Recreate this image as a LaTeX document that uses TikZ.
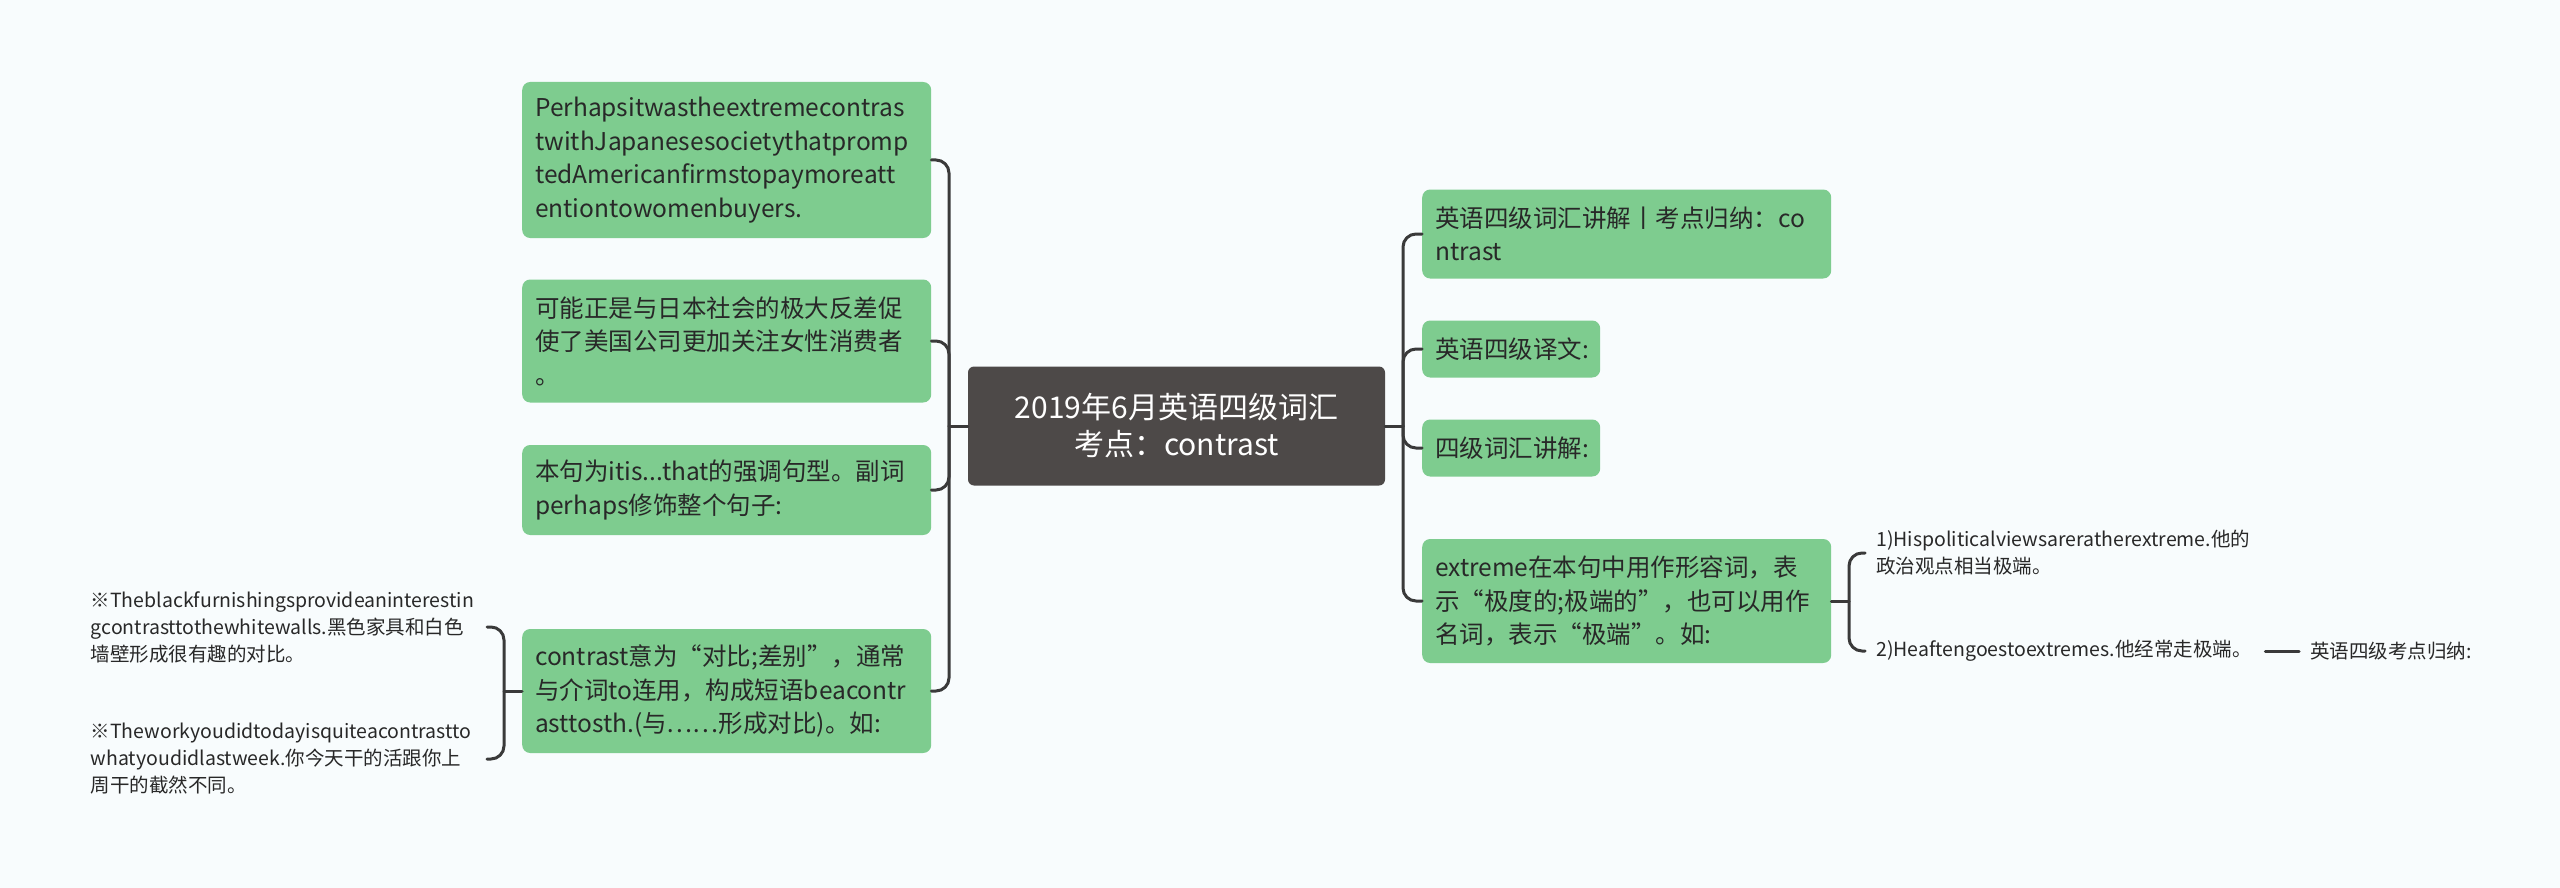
\documentclass[tikz,border=0pt]{standalone}
\usepackage{fontspec}
\setmainfont{Noto Sans CJK SC}
\hyphenpenalty=10000
\exhyphenpenalty=10000
\definecolor{bgpaper}{RGB}{248,252,253}
\definecolor{subgreen}{RGB}{126,204,143}
\definecolor{rootgray}{RGB}{77,73,72}
\definecolor{linegray}{RGB}{58,58,58}
\definecolor{inkgray}{RGB}{40,40,40}
\begin{document}
\begin{tikzpicture}[x=1pt,y=-1pt,line join=round,line cap=round,
	topic/.style={fill=rootgray,text=white,rounded corners=6pt,align=center,minimum width=417pt,minimum height=119pt,inner sep=0pt,font=\fontsize{30}{37}\selectfont},
	sub/.style={fill=subgreen,text=inkgray,rounded corners=8pt,anchor=west,align=left,inner xsep=13pt,inner ysep=0pt,text width=383pt,font=\fontsize{24.5}{33.5}\selectfont},
	subshort/.style={sub,text width=152pt},
	leaf/.style={text=inkgray,align=left,inner xsep=11pt,inner ysep=0pt,font=\fontsize{19.5}{27}\selectfont},
	link/.style={draw=linegray,line width=3pt,rounded corners=13pt}]
	\useasboundingbox[fill=bgpaper] (0,0) rectangle (2560,888);
	\node[topic] (root) at (1176.5,426) {2019年6月英语四级词汇\\考点：contrast};
	\node[sub,minimum height=156pt] (L1) at (522,160) {Perhapsitwastheextremecontras\\twithJapanesesocietythatpromp\\tedAmericanfirmstopaymoreatt\\entiontowomenbuyers.};
	\node[sub,minimum height=123pt] (L2) at (522,341) {可能正是与日本社会的极大反差促\\使了美国公司更加关注女性消费者\\。};
	\node[sub,minimum height=90pt] (L3) at (522,490) {本句为itis...that的强调句型。副词\\perhaps修饰整个句子:};
	\node[sub,minimum height=124pt] (L4) at (522,691) {contrast意为“对比;差别”，通常\\与介词to连用，构成短语beacontr\\asttosth.(与……形成对比)。如:};
	\node[sub,minimum height=89pt] (R1) at (1422,234) {英语四级词汇讲解丨考点归纳：co\\ntrast};
	\node[subshort,minimum height=57pt] (R2) at (1422,349) {英语四级译文:};
	\node[subshort,minimum height=57pt] (R3) at (1422,448) {四级词汇讲解:};
	\node[sub,minimum height=124pt] (R4) at (1422,601) {extreme在本句中用作形容词，表\\示“极度的;极端的”，也可以用作\\名词，表示“极端”。如:};
	\node[leaf,anchor=west,text width=378pt] (E1) at (1865,553) {1)Hispoliticalviewsareratherextreme.他的\\政治观点相当极端。};
	\node[leaf,anchor=west,text width=378pt] (E2) at (1865,651) {2)Heaftengoestoextremes.他经常走极端。};
	\node[leaf,anchor=west] (E5) at (2299,651) {英语四级考点归纳:};
	\node[leaf,anchor=east,text width=385pt] (E3) at (487,627) {※Theblackfurnishingsprovideaninterestin\\gcontrasttothewhitewalls.黑色家具和白色\\墙壁形成很有趣的对比。};
	\node[leaf,anchor=east,text width=385pt] (E4) at (487,759) {※Theworkyoudidtodayisquiteacontrastto\\whatyoudidlastweek.你今天干的活跟你上\\周干的截然不同。};
	\path
	(949,426) coordinate (lj)
	(1403,426) coordinate (rj)
	(504,691) coordinate (cj)
	(1849,601) coordinate (ej)
	;
	\draw[link] (root.west)--(lj) (root.east)--(rj) (L4.west)--(cj) (R4.east)--(ej) (E2.east)--(E5.west);
	\foreach \n in {L1,L2,L3,L4}
	\draw[link] (lj)|-(\n.east);
	\foreach \n in {R1,R2,R3,R4}
	\draw[link] (rj)|-(\n.west);
	\draw[link] (cj)|-(E3.east) (cj)|-(E4.east) (ej)|-(E1.west) (ej)|-(E2.west);
\end{tikzpicture}
\end{document}
